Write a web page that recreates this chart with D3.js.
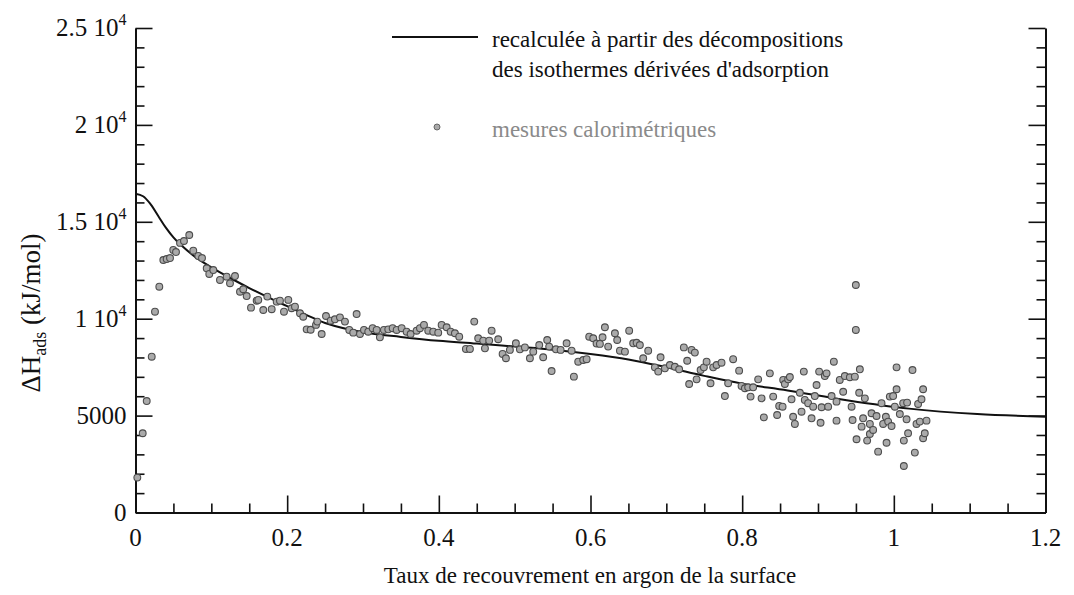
<!DOCTYPE html>
<html>
<head>
<meta charset="utf-8">
<script src="https://cdn.jsdelivr.net/npm/d3@7"></script>
<style>
  html, body { margin: 0; padding: 0; background: #fff; }
  svg { display: block; }
  text { font-family: "Liberation Serif", "Times New Roman", serif; fill: #111; }
</style>
</head>
<body>
<svg id="chart" width="1074" height="595"></svg>
<script>
// Recalculated adsorption enthalpy curve (coverage, kJ/mol)
const curveX = [0, 0.01, 0.02, 0.03, 0.04, 0.05, 0.06, 0.08, 0.10, 0.125, 0.15, 0.175, 0.20, 0.225, 0.25, 0.30, 0.35, 0.40, 0.45, 0.50, 0.55, 0.60, 0.65, 0.70, 0.75, 0.80, 0.86, 0.94, 1.02, 1.11, 1.2];
const curveY = [16450, 16320, 15900, 15300, 14700, 14200, 13800, 13150, 12650, 12100, 11580, 11100, 10650, 10200, 9780, 9300, 9060, 8860, 8720, 8560, 8400, 8180, 7900, 7500, 7050, 6650, 6300, 5780, 5360, 5080, 4940];

// Calorimetric measurements
const measX = [0.0024, 0.0095, 0.0148, 0.0214, 0.0257, 0.0314, 0.0367, 0.0411, 0.0455, 0.0498, 0.0534, 0.0587, 0.0639, 0.0709, 0.0762, 0.0828, 0.0877, 0.0939, 0.0973, 0.1026, 0.1114, 0.1202, 0.1246, 0.1312, 0.1378, 0.1421, 0.1466, 0.1523, 0.1598, 0.1619, 0.1685, 0.1738, 0.1796, 0.1862, 0.1905, 0.1958, 0.2015, 0.2059, 0.2103, 0.2169, 0.2212, 0.2257, 0.2310, 0.2380, 0.2397, 0.2455, 0.2512, 0.2574, 0.2630, 0.2696, 0.2762, 0.2819, 0.2871, 0.2916, 0.2960, 0.3013, 0.3069, 0.3127, 0.3180, 0.3223, 0.3276, 0.3333, 0.3391, 0.3444, 0.3510, 0.3575, 0.3628, 0.3707, 0.3751, 0.3804, 0.3860, 0.3926, 0.3992, 0.4037, 0.4103, 0.4156, 0.4212, 0.4269, 0.4357, 0.4410, 0.4467, 0.4519, 0.4585, 0.4608, 0.4664, 0.4696, 0.4783, 0.4841, 0.4885, 0.4937, 0.5016, 0.5069, 0.5135, 0.5201, 0.5245, 0.5324, 0.5376, 0.5429, 0.5455, 0.5487, 0.5544, 0.5606, 0.5685, 0.5751, 0.5781, 0.5838, 0.5904, 0.5949, 0.5983, 0.6036, 0.6080, 0.6124, 0.6159, 0.6190, 0.6233, 0.6322, 0.6352, 0.6388, 0.6454, 0.6510, 0.6563, 0.6608, 0.6651, 0.6695, 0.6761, 0.6849, 0.6893, 0.6924, 0.6981, 0.7047, 0.7113, 0.7169, 0.7231, 0.7275, 0.7301, 0.7333, 0.7376, 0.7399, 0.7452, 0.7495, 0.7531, 0.7583, 0.7618, 0.7663, 0.7728, 0.7772, 0.7815, 0.7881, 0.7960, 0.7992, 0.8036, 0.8079, 0.8111, 0.8145, 0.8211, 0.8256, 0.8286, 0.8365, 0.8409, 0.8461, 0.8488, 0.8533, 0.8541, 0.8563, 0.8606, 0.8629, 0.8651, 0.8672, 0.8695, 0.8761, 0.8783, 0.8813, 0.8826, 0.8870, 0.8915, 0.8936, 0.8958, 0.8981, 0.9015, 0.9034, 0.9047, 0.9090, 0.9113, 0.9134, 0.9179, 0.9209, 0.9244, 0.9244, 0.9287, 0.9332, 0.9354, 0.9420, 0.9443, 0.9456, 0.9486, 0.9499, 0.9499, 0.9508, 0.9543, 0.9552, 0.9575, 0.9595, 0.9618, 0.9648, 0.9684, 0.9684, 0.9706, 0.9727, 0.9772, 0.9793, 0.9838, 0.9859, 0.9895, 0.9904, 0.9925, 0.9947, 0.9970, 0.9991, 1.0013, 1.0036, 1.0036, 1.0079, 1.0123, 1.0132, 1.0132, 1.0168, 1.0175, 1.0188, 1.0246, 1.0277, 1.0299, 1.0320, 1.0343, 1.0365, 1.0386, 1.0386, 1.0408, 1.0431];
const measY = [1800, 4090, 5750, 8040, 10360, 11650, 13030, 13080, 13130, 13550, 13440, 13910, 14010, 14320, 13510, 13240, 13130, 12600, 12310, 12510, 12000, 12170, 11830, 12200, 11390, 11520, 11170, 10570, 10930, 10970, 10450, 11140, 10490, 10880, 10930, 10360, 10970, 10540, 10620, 10280, 10100, 9450, 9430, 9680, 9850, 9210, 10140, 9900, 9970, 10070, 9850, 9420, 9280, 10240, 9210, 9420, 9330, 9510, 9420, 9040, 9420, 9450, 9510, 9420, 9510, 9330, 9210, 9380, 9510, 9680, 9380, 9330, 9280, 9680, 9560, 9330, 9250, 9070, 8440, 8440, 9850, 8990, 8870, 8470, 8870, 9380, 8940, 8180, 7960, 8390, 8730, 8420, 8520, 7960, 8300, 8640, 8010, 8900, 8560, 7300, 8420, 8390, 8730, 8350, 7010, 7780, 7870, 7910, 9070, 8990, 8720, 8700, 9040, 9560, 8560, 9250, 8900, 8350, 8300, 9380, 8730, 8760, 8640, 7960, 8350, 7490, 7270, 8010, 7440, 7610, 7520, 7390, 8520, 7830, 6630, 8390, 8250, 6870, 7350, 7490, 7780, 6670, 7490, 7610, 7730, 6010, 6670, 7910, 7320, 6530, 6410, 6460, 5980, 6460, 6870, 5890, 4910, 7180, 5980, 5030, 5500, 5460, 6840, 6630, 6870, 6990, 5840, 4940, 4570, 6180, 5200, 7270, 5810, 5640, 4860, 5460, 6010, 6580, 7270, 4630, 5430, 7040, 7180, 5460, 6010, 7780, 5720, 4740, 6840, 6230, 7040, 6980, 5460, 4770, 7010, 11740, 9420, 3780, 6180, 7390, 4430, 4860, 5890, 3710, 4570, 4050, 5120, 4260, 4980, 3140, 5640, 4570, 4940, 3600, 4690, 5980, 4460, 6010, 5460, 7490, 6360, 5080, 5640, 3710, 2400, 4810, 5670, 4090, 7350, 3090, 4570, 5600, 4690, 5840, 6360, 3830, 4090, 4740];

// Axis ticks and labels
const xMajorTicks = [0, 0.2, 0.4, 0.6, 0.8, 1, 1.2];
const xTickLabels = ["0", "0.2", "0.4", "0.6", "0.8", "1", "1.2"];
const yMajorTicks = [0, 5000, 10000, 15000, 20000, 25000];
const yTickMantissa = ["0", "5000", "1", "1.5", "2", "2.5"];
const yTickExponent = ["", "", "4", "4", "4", "4"];

const legendLine = ["recalculée à partir des décompositions", "des isothermes dérivées d'adsorption"];
const legendPoints = "mesures calorimétriques";
const xTitle = "Taux de recouvrement en argon de la surface";

const svg = d3.select("#chart");
const plotLeft = 135.5, plotRight = 1045.5, plotTop = 28, plotBottom = 512.5;

const x = d3.scaleLinear().domain([0, 1.2]).range([plotLeft, plotRight]);
const y = d3.scaleLinear().domain([0, 25000]).range([plotBottom, plotTop]);

const xMinor = d3.range(0, 1.2001, 0.05).filter(v => xMajorTicks.every(t => Math.abs(t - v) > 1e-6));
const yMinor = d3.range(0, 25001, 1000).filter(v => v % 5000 !== 0);

function styleAxis(g) {
  g.select(".domain").attr("stroke", "#111").attr("stroke-width", 2);
  g.selectAll(".tick line").attr("stroke", "#111").attr("stroke-width", 1.6);
}

// left axis
svg.append("g").attr("transform", `translate(${plotLeft},0)`)
  .call(d3.axisLeft(y).tickValues(yMajorTicks).tickSize(-17).tickSizeOuter(0).tickFormat(""))
  .call(styleAxis);
svg.append("g").attr("transform", `translate(${plotLeft},0)`)
  .call(d3.axisLeft(y).tickValues(yMinor).tickSize(-9).tickFormat(""))
  .call(g => g.select(".domain").remove())
  .call(styleAxis);

// right axis
svg.append("g").attr("transform", `translate(${plotRight},0)`)
  .call(d3.axisRight(y).tickValues(yMajorTicks).tickSize(-17).tickSizeOuter(0).tickFormat(""))
  .call(styleAxis);
svg.append("g").attr("transform", `translate(${plotRight},0)`)
  .call(d3.axisRight(y).tickValues(yMinor).tickSize(-9).tickFormat(""))
  .call(g => g.select(".domain").remove())
  .call(styleAxis);

// bottom axis
svg.append("g").attr("transform", `translate(0,${plotBottom})`)
  .call(d3.axisBottom(x).tickValues(xMajorTicks).tickSize(-17).tickSizeOuter(0).tickFormat(""))
  .call(styleAxis);
svg.append("g").attr("transform", `translate(0,${plotBottom})`)
  .call(d3.axisBottom(x).tickValues(xMinor).tickSize(-9).tickFormat(""))
  .call(g => g.select(".domain").remove())
  .call(styleAxis);

// x tick labels
svg.append("g").selectAll("text").data(xMajorTicks).join("text")
  .attr("x", d => x(d)).attr("y", plotBottom + 33)
  .attr("text-anchor", "middle").attr("font-size", 25)
  .text((d, i) => xTickLabels[i]);

// y tick labels with power-of-ten notation
const yl = svg.append("g").selectAll("text").data(yMajorTicks).join("text")
  .attr("x", plotLeft - 9).attr("y", d => y(d) + 8)
  .attr("text-anchor", "end").attr("font-size", 25);
yl.each(function (d, i) {
  const t = d3.select(this);
  if (yTickExponent[i]) {
    t.append("tspan").text(yTickMantissa[i] + " 10");
    t.append("tspan").attr("font-size", 16).attr("dy", -11).text(yTickExponent[i]);
  } else {
    t.text(yTickMantissa[i]);
  }
});

// axis titles
svg.append("text").attr("x", 590).attr("y", 583)
  .attr("text-anchor", "middle").attr("font-size", 23).text(xTitle);

const yt = svg.append("text").attr("transform", "translate(40,313) rotate(-90)")
  .attr("text-anchor", "middle").attr("font-size", 27);
yt.append("tspan").text("ΔH");
yt.append("tspan").attr("font-size", 18).attr("dy", 6).text("ads");
yt.append("tspan").attr("dy", -6).text(" (kJ/mol)");

// recalculated curve
const line = d3.line().x((d, i) => x(curveX[i])).y(d => y(d)).curve(d3.curveCatmullRom.alpha(0.5));
svg.append("path").datum(curveY).attr("d", line)
  .attr("fill", "none").attr("stroke", "#111").attr("stroke-width", 2);

// measured points
svg.append("g").selectAll("circle").data(measY).join("circle")
  .attr("cx", (d, i) => x(measX[i])).attr("cy", d => y(d)).attr("r", 3.4)
  .attr("fill", "#aaaaaa").attr("stroke", "#4d4d4d").attr("stroke-width", 1.1);

// legend
svg.append("line").attr("x1", 392).attr("x2", 478).attr("y1", 37).attr("y2", 37)
  .attr("stroke", "#111").attr("stroke-width", 1.8);
svg.append("text").attr("x", 492).attr("y", 47).attr("font-size", 23).text(legendLine[0]);
svg.append("text").attr("x", 492).attr("y", 77).attr("font-size", 23).text(legendLine[1]);
svg.append("circle").attr("cx", 437).attr("cy", 127).attr("r", 3)
  .attr("fill", "#aaaaaa").attr("stroke", "#666").attr("stroke-width", 1);
svg.append("text").attr("x", 492).attr("y", 137).attr("font-size", 23)
  .style("fill", "#8a8a8a").text(legendPoints);
</script>
</body>
</html>
